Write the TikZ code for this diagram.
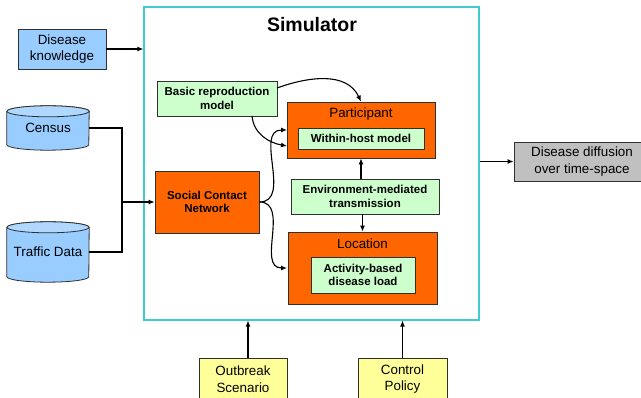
\documentclass[tikz,border=0pt]{standalone}
\usepackage{fontspec}
\setmainfont{Liberation Sans}
\usetikzlibrary{arrows.meta,backgrounds}

\definecolor{dbblue}{HTML}{99CCFF}
\definecolor{dbtop}{HTML}{B0D8FF}
\definecolor{hotorange}{HTML}{FF6600}
\definecolor{palegreen}{HTML}{CCFFCC}
\definecolor{paleyellow}{HTML}{FFFF99}
\definecolor{midgray}{HTML}{C0C0C0}
\definecolor{simcyan}{HTML}{40CCCC}
\definecolor{edgegray}{HTML}{303030}

\newcommand\regfont{\fontsize{13.4}{16.6}\selectfont}
\newcommand\boldsmall{\fontsize{11.5}{13.4}\selectfont\bfseries}

% cylinder body and lid behind a named, borderless node
\newcommand\drawdbcyl[1]{%
  \begin{scope}[on background layer]
    \draw[edgegray, line width=0.8pt, fill=dbblue]
      ([yshift=-5.5pt]#1.north west) -- ([yshift=5.5pt]#1.south west)
      arc[start angle=180, end angle=360, x radius=41pt, y radius=5.5pt]
      -- ([yshift=-5.5pt]#1.north east)
      arc[start angle=0, end angle=180, x radius=41pt, y radius=5.5pt] -- cycle;
    \draw[edgegray, line width=0.8pt, fill=dbtop]
      ([yshift=-5.5pt]#1.north) ellipse[x radius=41pt, y radius=5.5pt];
  \end{scope}}

\begin{document}
\begin{tikzpicture}[x=1pt, y=-1pt,
  box/.style={draw=edgegray, line width=0.8pt, inner sep=0pt, align=center},
  inbox/.style={box, fill=dbblue, font=\regfont},
  orangebox/.style={box, fill=hotorange},
  greenbox/.style={box, fill=palegreen, font=\boldsmall},
  yellowbox/.style={box, fill=paleyellow, font=\regfont},
  outbox/.style={box, fill=midgray, font=\regfont},
  dbnode/.style={inner sep=0pt, align=center, font=\regfont},
  boxlabel/.style={inner sep=0pt, font=\regfont},
  link/.style={line width=1.1pt, -{Latex[length=6pt,width=5pt]}},
  feed/.style={line width=1.1pt}]

\useasboundingbox (0,0) rectangle (641,398);

% simulator frame and its title
\node[draw=simcyan, line width=1.1pt, minimum width=335pt, minimum height=313pt,
      inner sep=0pt] (sim) at (311.5,163.5) {};
\node[inner sep=0pt, font=\fontsize{19.5}{22}\selectfont\bfseries] (simtitle) at (312,25) {Simulator};

% inputs on the left
\node[inbox, minimum width=88pt, minimum height=40pt] (dk) at (62,49) {Disease\\knowledge};
\node[dbnode, minimum width=82pt, minimum height=44pt] (census) at (48,128) {\raisebox{-2pt}{Census}};
\drawdbcyl{census}
\node[dbnode, minimum width=82pt, minimum height=60pt] (traffic) at (48,252) {\raisebox{-3pt}{Traffic Data}};
\drawdbcyl{traffic}

% model components inside the simulator
\node[greenbox, minimum width=120pt, minimum height=35pt] (brm) at (217,98.5) {Basic reproduction\\model};
\node[orangebox, font=\boldsmall, minimum width=104pt, minimum height=62pt] (scn) at (207,202) {Social Contact\\Network};

\node[orangebox, minimum width=148pt, minimum height=56pt] (part) at (361,130) {};
\node[boxlabel] (partlbl) at (361,114) {Participant};
\node[greenbox, minimum width=126pt, minimum height=21pt] (wh) at (361,138.5) {Within-host model};

\node[greenbox, minimum width=148pt, minimum height=35pt] (env) at (365,196.5) {Environment-mediated\\transmission};

\node[orangebox, minimum width=149pt, minimum height=72pt] (loc) at (362.5,268) {};
\node[boxlabel] (loclbl) at (362.5,244) {Location};
\node[greenbox, minimum width=104pt, minimum height=36pt] (abl) at (363,275) {Activity-based\\disease load};

% output and scenario inputs
\node[outbox, minimum width=136pt, minimum height=39pt] (diff) at (582,161.5) {Disease diffusion\\over time-space};
\node[yellowbox, minimum width=88pt, minimum height=42pt] (outb) at (243,379) {Outbreak\\Scenario};
\node[yellowbox, minimum width=89pt, minimum height=42pt] (ctrl) at (402.5,379) {Control\\Policy};

% data feeding the contact network
\coordinate (join) at (122,202);
\draw[feed] (census.east) -| (join);
\draw[feed] (traffic.east) -| (join);
\draw[link] (join) -- (scn.west);

% straight connectors
\draw[link] (dk.east) -- (dk.east -| sim.west);
\draw[link] (sim.east |- diff.west) -- (diff.west);
\draw[link] ([xshift=5pt]outb.north) -- ([xshift=5pt]outb.north |- sim.south);
\draw[link] (ctrl.north) -- (ctrl.north |- sim.south);
\draw[link] (env.north -| part.south) -- (part.south);
\draw[link] (env.south -| loc.north) -- (loc.north);

% curved connectors
\coordinate (brmout) at (277,88);
\coordinate (brmdown) at (252,116);
\coordinate (partin1) at (287,130);
\coordinate (partin2) at (287,146);
\coordinate (locin) at (287,268);
\draw[link] (brmout) to[out=20, in=115] (part.north);
\draw[link] (brmdown) to[out=-85, in=170] (partin2);
\draw[link] (scn.east) to[out=0, in=180, looseness=1.1] (partin1);
\draw[link] (scn.east) to[out=0, in=180, looseness=1.1] (locin);

\end{tikzpicture}
\end{document}
